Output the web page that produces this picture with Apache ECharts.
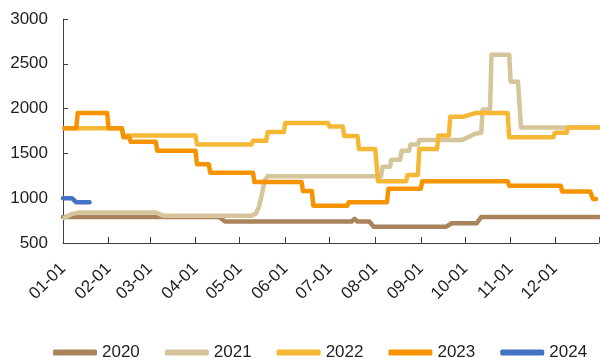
<!DOCTYPE html>
<html><head><meta charset="utf-8">
<script src="https://cdn.jsdelivr.net/npm/echarts/dist/echarts.min.js"></script>
<style>html,body{margin:0;padding:0;background:#fff}#c{width:600px;height:360px}</style>
</head><body><div id="c"></div>
<script>
const daysInMonth = [31,28,31,30,31,30,31,31,30,31,30,31];
const categories = [];
daysInMonth.forEach(function(n, m){
  for (let d = 1; d <= n; d++) categories.push(String(m+1).padStart(2,'0') + '-' + String(d).padStart(2,'0'));
});
const tickLabels = ['01-01','02-01','03-01','04-01','05-01','06-01','07-01','08-01','09-01','10-01','11-01','12-01'];
const seriesNames = ['2020','2021','2022','2023','2024'];
const seriesColors = ['#A9845B','#D6C49B','#F5B835','#F59300','#4472C4'];

const s2020 = [['01-01',790],['04-17',790],['04-21',740],['07-16',740],['07-18',770],['07-20',740],['07-28',740],['07-31',680],['09-18',680],['09-22',720],['10-09',720],['10-12',790],['12-31',790]];
const s2021 = [['01-02',780],['01-07',825],['01-12',840],['03-05',840],['03-10',805],['05-09',805],['05-12',830],['05-14',900],['05-16',1040],['05-18',1200],['05-20',1245],['08-05',1245],['08-06',1350],['08-11',1350],['08-12',1430],['08-18',1430],['08-19',1530],['08-24',1530],['08-25',1600],['08-30',1600],['08-31',1650],['09-29',1650],['10-08',1720],['10-12',1730],['10-13',1990],['10-18',1990],['10-19',2600],['10-31',2600],['11-01',2300],['11-06',2300],['11-08',1790],['12-31',1790]];
const s2022 = [['01-02',1780],['02-10',1780],['02-11',1700],['04-01',1700],['04-02',1600],['05-09',1600],['05-10',1640],['05-19',1640],['05-20',1740],['05-31',1740],['06-01',1840],['06-30',1840],['07-01',1800],['07-10',1800],['07-11',1695],['07-20',1695],['07-21',1550],['08-01',1550],['08-03',1190],['08-22',1190],['08-23',1260],['08-30',1260],['08-31',1550],['09-12',1550],['09-13',1700],['09-20',1700],['09-21',1910],['09-30',1910],['10-08',1950],['10-30',1950],['10-31',1680],['11-30',1680],['12-01',1730],['12-09',1730],['12-10',1790],['12-31',1790]];
const s2023 = [['01-02',1780],['01-10',1780],['01-11',1950],['01-31',1950],['02-01',1780],['02-10',1780],['02-11',1680],['02-15',1680],['02-16',1630],['03-05',1630],['03-06',1530],['04-01',1530],['04-02',1380],['04-10',1380],['04-11',1285],['05-10',1285],['05-11',1180],['06-12',1180],['06-13',1080],['06-19',1080],['06-20',915],['07-13',915],['07-14',955],['08-09',955],['08-10',1105],['09-01',1105],['09-02',1190],['10-30',1190],['10-31',1140],['12-05',1140],['12-06',1075],['12-25',1075],['12-27',990],['12-29',990]];
const s2024 = [['01-01',1000],['01-07',1000],['01-10',955],['01-19',955]];
const seriesData = [s2020, s2021, s2022, s2023, s2024];

const FONT = "'Liberation Sans',Arial,sans-serif";
const chart = echarts.init(document.getElementById('c'), null, {renderer: 'canvas'});
const lastIdx = categories.length - 1;
chart.setOption({
  animation: false,
  backgroundColor: '#ffffff',
  grid: {left: 63, right: 1, top: 19, bottom: 117, containLabel: false},
  legend: {
    data: seriesNames,
    left: 48, top: 339, width: 560,
    icon: 'roundRect',
    itemWidth: 44, itemHeight: 6, itemGap: 25,
    textStyle: {fontFamily: FONT, fontSize: 17, color: '#1f1f1f'}
  },
  xAxis: {
    type: 'category',
    data: categories,
    boundaryGap: false,
    axisLine: {lineStyle: {color: '#404040', width: 1}},
    axisTick: {
      inside: true, length: 6, lineStyle: {color: '#404040'},
      interval: function(i, v){ return tickLabels.indexOf(v) >= 0 || i === lastIdx; }
    },
    axisLabel: {
      interval: function(i, v){ return tickLabels.indexOf(v) >= 0; },
      rotate: 45, margin: 23,
      fontFamily: FONT, fontSize: 17, color: '#1f1f1f'
    },
    splitLine: {show: false}
  },
  yAxis: {
    type: 'value', min: 500, max: 3000, interval: 500,
    axisLine: {show: true, lineStyle: {color: '#404040', width: 1}},
    axisTick: {show: true, inside: true, length: 5, lineStyle: {color: '#404040'}},
    axisLabel: {margin: 15, fontFamily: FONT, fontSize: 17, color: '#1f1f1f',
      formatter: function(v){ return String(v); }},
    splitLine: {show: false}
  },
  series: seriesNames.map(function(name, k){
    return {
      name: name, type: 'line', data: seriesData[k],
      showSymbol: false, symbol: 'none',
      color: seriesColors[k],
      lineStyle: {width: 4.5, color: seriesColors[k], cap: 'round', join: 'round'},
      z: 2 + k
    };
  })
});
</script>
</body></html>
